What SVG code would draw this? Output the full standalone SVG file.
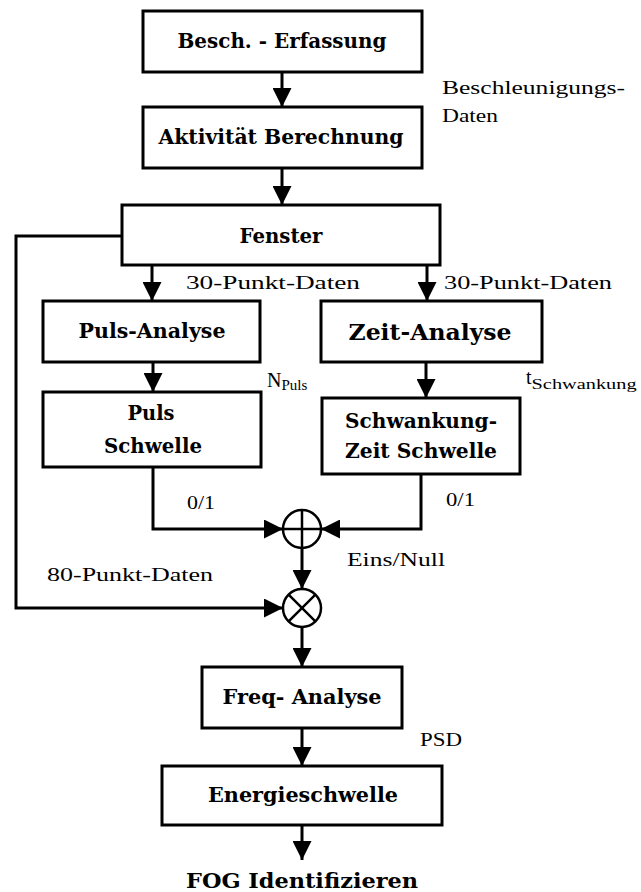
<svg xmlns="http://www.w3.org/2000/svg" width="641" height="892" viewBox="0 0 641 892">
  <style>
    .box { fill: #ffffff; stroke: #000000; stroke-width: 3; }
    .title { font-weight: bold; font-size: 20px; text-anchor: middle; fill: #000; }
    .lbl { font-size: 18px; fill: #000; }
    .big { font-size: 20px; fill: #000; }
    .sub { font-size: 15px; }
    .wire { fill: none; stroke: #000; stroke-width: 3; }
    .op { fill: #fff; stroke: #000; stroke-width: 2.5; }
    .opl { stroke: #000; stroke-width: 2.5; }
  </style>
  <defs>
    <marker id="arrow" markerUnits="userSpaceOnUse" markerWidth="19" markerHeight="19" refX="19" refY="9.5" orient="auto">
      <path d="M0,0 L19,9.5 L0,19 z" fill="#000"/>
    </marker>
  </defs>
  <rect width="641" height="892" fill="#ffffff"/>

  <!-- connectors -->
  <g id="connectors">
    <line class="wire" x1="282" y1="72" x2="282" y2="107" marker-end="url(#arrow)"/>
    <line class="wire" x1="282" y1="168" x2="282" y2="205" marker-end="url(#arrow)"/>
    <line class="wire" x1="152" y1="265" x2="152" y2="301" marker-end="url(#arrow)"/>
    <line class="wire" x1="427" y1="265" x2="427" y2="301" marker-end="url(#arrow)"/>
    <line class="wire" x1="153" y1="362" x2="153" y2="392" marker-end="url(#arrow)"/>
    <line class="wire" x1="426" y1="362" x2="426" y2="398" marker-end="url(#arrow)"/>
    <polyline class="wire" points="153,467 153,529 283,529" marker-end="url(#arrow)"/>
    <polyline class="wire" points="421,474 421,529 321,529" marker-end="url(#arrow)"/>
    <line class="wire" x1="302" y1="548" x2="302" y2="589" marker-end="url(#arrow)"/>
    <polyline class="wire" points="122,236 16,236 16,608 283,608" marker-end="url(#arrow)"/>
    <line class="wire" x1="302" y1="627" x2="302" y2="667" marker-end="url(#arrow)"/>
    <line class="wire" x1="302" y1="728" x2="302" y2="766" marker-end="url(#arrow)"/>
    <line class="wire" x1="302" y1="825" x2="302" y2="860" marker-end="url(#arrow)"/>
  </g>

  <!-- processing blocks -->
  <g font-family="DejaVu Serif, serif">
  <g id="erfassung">
    <rect class="box" x="143" y="11" width="279" height="61"/>
    <text class="title" x="282" y="48" textLength="209" lengthAdjust="spacingAndGlyphs">Besch. - Erfassung</text>
  </g>
  <g id="aktivitaet">
    <rect class="box" x="143" y="107" width="279" height="61"/>
    <text class="title" x="281" y="144" textLength="245" lengthAdjust="spacingAndGlyphs">Aktivität Berechnung</text>
  </g>
  <g id="fenster">
    <rect class="box" x="122" y="205" width="318" height="60"/>
    <text class="title" x="281" y="243" textLength="83" lengthAdjust="spacingAndGlyphs">Fenster</text>
  </g>
  <g id="puls-analyse">
    <rect class="box" x="43" y="301" width="217" height="61"/>
    <text class="title" x="152" y="338" textLength="147" lengthAdjust="spacingAndGlyphs">Puls-Analyse</text>
  </g>
  <g id="zeit-analyse">
    <rect class="box" x="321" y="301" width="221" height="61"/>
    <text class="title" x="430" y="340" style="font-size:22px" textLength="163" lengthAdjust="spacingAndGlyphs">Zeit-Analyse</text>
  </g>
  <g id="puls-schwelle">
    <rect class="box" x="43" y="392" width="218" height="75"/>
    <text class="title" x="151" y="420" textLength="47" lengthAdjust="spacingAndGlyphs">Puls</text>
    <text class="title" x="153" y="453" textLength="98" lengthAdjust="spacingAndGlyphs">Schwelle</text>
  </g>
  <g id="schwankung-schwelle">
    <rect class="box" x="322" y="398" width="198" height="76"/>
    <text class="title" x="421" y="428" textLength="152" lengthAdjust="spacingAndGlyphs">Schwankung-</text>
    <text class="title" x="421" y="458" textLength="152" lengthAdjust="spacingAndGlyphs">Zeit Schwelle</text>
  </g>
  <g id="oder">
    <circle class="op" cx="302" cy="529" r="19"/>
    <line class="opl" x1="302" y1="510" x2="302" y2="548"/>
    <line class="opl" x1="283" y1="529" x2="321" y2="529"/>
  </g>
  <g id="mult">
    <circle class="op" cx="302" cy="608" r="19"/>
    <line class="opl" x1="288.6" y1="594.6" x2="315.4" y2="621.4"/>
    <line class="opl" x1="315.4" y1="594.6" x2="288.6" y2="621.4"/>
  </g>
  <g id="freq-analyse">
    <rect class="box" x="202" y="667" width="200" height="61"/>
    <text class="title" x="302" y="704" textLength="159" lengthAdjust="spacingAndGlyphs">Freq- Analyse</text>
  </g>
  <g id="energieschwelle">
    <rect class="box" x="162" y="766" width="280" height="59"/>
    <text class="title" x="303" y="802" textLength="190" lengthAdjust="spacingAndGlyphs">Energieschwelle</text>
  </g>
  <g id="fog">
    <text class="title" x="302" y="888" textLength="232" lengthAdjust="spacingAndGlyphs">FOG Identifizieren</text>
  </g>
  </g>

  <!-- signal labels -->
  <g id="labels" font-family="Liberation Serif, serif">
    <text class="lbl" x="442" y="94" textLength="183" lengthAdjust="spacingAndGlyphs">Beschleunigungs-</text>
    <text class="lbl" x="442" y="122" textLength="56" lengthAdjust="spacingAndGlyphs">Daten</text>
    <text class="lbl" x="186" y="289" textLength="174" lengthAdjust="spacingAndGlyphs">30-Punkt-Daten</text>
    <text class="lbl" x="444" y="289" textLength="168" lengthAdjust="spacingAndGlyphs">30-Punkt-Daten</text>
    <text class="big" x="267" y="387">N<tspan class="sub" dy="3">Puls</tspan></text>
    <text class="big" x="526" y="384">t<tspan class="sub" dy="5" textLength="105" lengthAdjust="spacingAndGlyphs">Schwankung</tspan></text>
    <text class="lbl" x="187" y="509" textLength="28" lengthAdjust="spacingAndGlyphs">0/1</text>
    <text class="lbl" x="446" y="506" textLength="29" lengthAdjust="spacingAndGlyphs">0/1</text>
    <text class="lbl" x="347" y="566" textLength="98" lengthAdjust="spacingAndGlyphs">Eins/Null</text>
    <text class="lbl" x="47" y="581" textLength="166" lengthAdjust="spacingAndGlyphs">80-Punkt-Daten</text>
    <text class="lbl" x="420" y="746" textLength="42" lengthAdjust="spacingAndGlyphs">PSD</text>
  </g>
</svg>
